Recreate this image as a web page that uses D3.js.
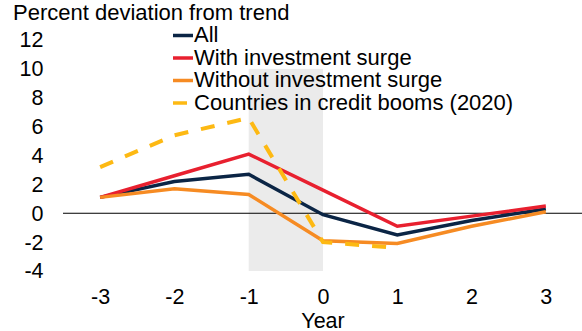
<!DOCTYPE html>
<html>
<head>
<meta charset="utf-8">
<script src="https://cdn.jsdelivr.net/npm/d3@7"></script>
<style>
  html, body { margin: 0; padding: 0; background: #fff; }
  svg { display: block; font-family: "Liberation Sans", Arial, sans-serif; }
</style>
</head>
<body>
<svg id="chart" width="582" height="331"></svg>
<script>
// Years relative to the event
const years = [-3, -2, -1, 0, 1, 2, 3];
const yTicks = [-4, -2, 0, 2, 4, 6, 8, 10, 12];

// Percent deviation from trend
const allSeries = [1.1, 2.2, 2.7, -0.1, -1.5, -0.5, 0.3];
const withSurge = [1.1, 2.6, 4.1, 1.6, -0.9, -0.2, 0.5];
const withoutSurge = [1.1, 1.7, 1.3, -1.9, -2.1, -0.9, 0.1];
const creditBoomYears = [-3, -2, -1, 0, 1];
const creditBooms2020 = [3.2, 5.4, 6.6, -2.0, -2.4];

// Shaded window
const shadeYears = [-1, 0];
const shadeRange = [-4, 10];

const series = [
  { name: "All", years: years, values: allSeries, color: "#0b2545", dash: null, width: 3.5 },
  { name: "With investment surge", years: years, values: withSurge, color: "#e8202f", dash: null, width: 3.5 },
  { name: "Without investment surge", years: years, values: withoutSurge, color: "#f68b23", dash: null, width: 3.5 },
  { name: "Countries in credit booms (2020)", years: creditBoomYears, values: creditBooms2020, color: "#fdb913", dash: "14,13", width: 4 }
];

const svg = d3.select("#chart");
const tickFont = 21.5;
const labelFont = 22;

const x = d3.scaleLinear().domain([-3.5, 3.5]).range([63, 583]);
const y = d3.scaleLinear().domain([-4, 12]).range([271, 40]);

// shaded band
svg.append("rect")
  .attr("x", x(shadeYears[0]))
  .attr("y", y(shadeRange[1]))
  .attr("width", x(shadeYears[1]) - x(shadeYears[0]))
  .attr("height", y(shadeRange[0]) - y(shadeRange[1]))
  .attr("fill", "#ebebeb");

// zero line
svg.append("line")
  .attr("x1", x(-3.5)).attr("x2", 582)
  .attr("y1", y(0)).attr("y2", y(0))
  .attr("stroke", "#000").attr("stroke-width", 1);

// axes
const yAxis = svg.append("g")
  .attr("transform", `translate(${x(-3.5)},0)`)
  .call(d3.axisLeft(y).tickValues(yTicks).tickSize(0).tickPadding(19.5).tickFormat(d3.format("d")));
const xAxis = svg.append("g")
  .attr("transform", `translate(0,${y(-4)})`)
  .call(d3.axisBottom(x).tickValues(years).tickSize(0).tickPadding(18).tickFormat(d3.format("d")));
[yAxis, xAxis].forEach(g => {
  g.select(".domain").remove();
  g.selectAll("text")
    .attr("font-family", "'Liberation Sans', Arial, sans-serif")
    .attr("font-size", tickFont)
    .attr("fill", "#000");
});
// plain hyphen-minus for negative labels
yAxis.selectAll("text").text(d => String(d));
xAxis.selectAll("text").text(d => String(d));

// lines
const line = d3.line().x(d => x(d[0])).y(d => y(d[1]));
series.forEach(s => {
  const pts = s.years.map((yr, i) => [yr, s.values[i]]);
  svg.append("path")
    .datum(pts)
    .attr("d", line)
    .attr("fill", "none")
    .attr("stroke", s.color)
    .attr("stroke-width", s.width)
    .attr("stroke-linejoin", "miter")
    .attr("stroke-dasharray", s.dash);
});

// title
svg.append("text")
  .attr("x", 13).attr("y", 20)
  .attr("font-size", labelFont)
  .text("Percent deviation from trend");

// axis title
svg.append("text")
  .attr("x", x(0)).attr("y", 327.5)
  .attr("text-anchor", "middle")
  .attr("font-size", tickFont)
  .text("Year");

// legend
const legend = svg.append("g");
series.forEach((s, i) => {
  const ly = 35.5 + i * 22.5;
  legend.append("line")
    .attr("x1", 173).attr("x2", 193)
    .attr("y1", ly).attr("y2", ly)
    .attr("stroke", s.color)
    .attr("stroke-width", 3.5)
    .attr("stroke-dasharray", s.dash);
  legend.append("text")
    .attr("x", 194).attr("y", ly + 6.5)
    .attr("font-size", labelFont)
    .text(s.name);
});
</script>
</body>
</html>
